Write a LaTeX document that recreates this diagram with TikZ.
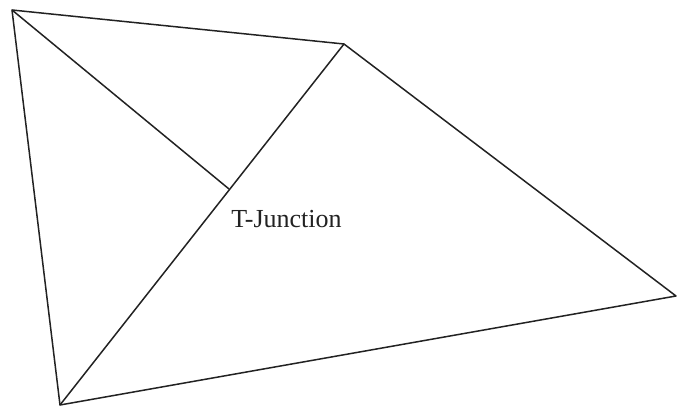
\documentclass[tikz,border=0pt]{standalone}
\usepackage{fontspec}
\setmainfont{Liberation Serif}
\definecolor{edgegray}{HTML}{222222}

\begin{document}
\begin{tikzpicture}[x=1pt, y=-1pt]

% Canvas
\useasboundingbox (0,0) rectangle (677,406);

% Corners of the outer quadrilateral
\coordinate (nw) at (12,10);
\coordinate (ne) at (344,44);
\coordinate (ee) at (676,296);
\coordinate (sw) at (60,405);
\coordinate (tj) at (229,189);

% Outline
\draw[edgegray, line width=1.5pt, line join=round] (nw) -- (ne) -- (ee) -- (sw) -- cycle;

% Diagonal and the edge ending on it
\draw[edgegray, line width=1.5pt] (ne) -- (sw);
\draw[edgegray, line width=1.5pt] (nw) -- (tj);

% Label
\node[font=\fontsize{26}{30}\selectfont, text=edgegray, inner sep=0pt] (lbl) at (286.5,219) {T-Junction};

\end{tikzpicture}
\end{document}
